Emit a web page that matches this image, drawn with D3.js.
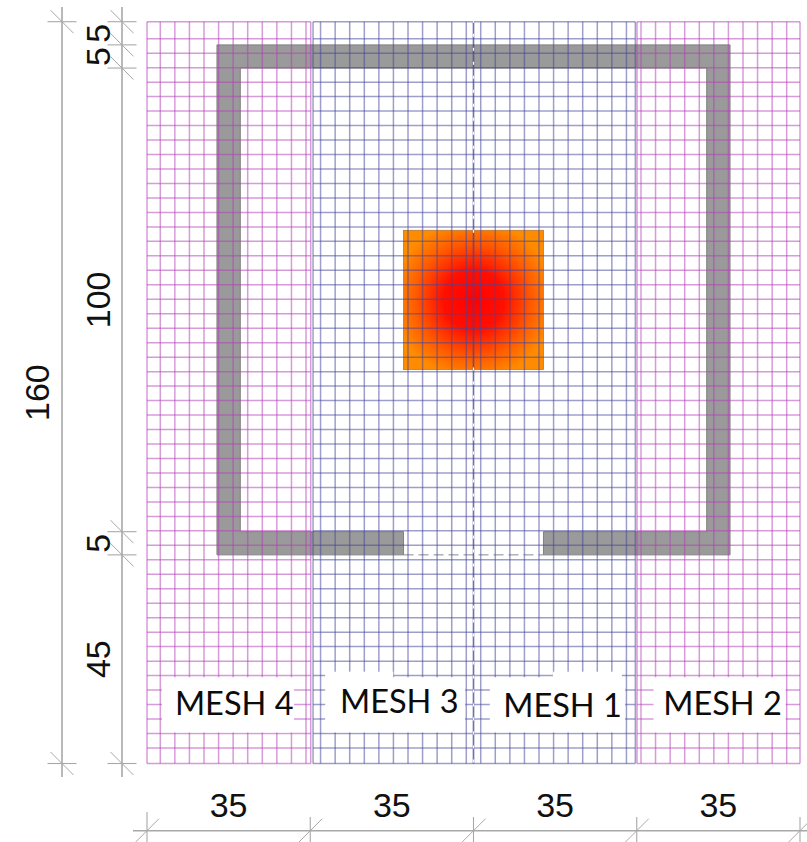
<!DOCTYPE html>
<html><head><meta charset="utf-8">
<script src="https://cdn.jsdelivr.net/npm/d3@7"></script>
<style>html,body{margin:0;padding:0;background:#fff}svg{display:block}</style>
</head><body><svg id="c" width="807" height="842"></svg>
<script>
// Plan extents, in centimetres
const planWidths = [35, 35, 35, 35];
const planHeights = [5, 5, 100, 5, 45];
const planTotalHeight = [160];
const heightLabels = ["5", "5", "100", "5", "45"];
const widthLabels = ["35", "35", "35", "35"];
const totalLabel = ["160"];
const yBreaks = [0, 5, 10, 110, 115, 160];
const xBreaks = [0, 35, 70, 105, 140];

// Grid line stations
const gridXLeftOuter = [0, 2.85, 5.97, 9.10, 12.22, 15.35, 18.47, 21.59, 24.72, 27.84, 30.97, 34.09, 35.1];
const gridXLeftInner = [35.6, 37.21, 40.34, 43.46, 46.59, 49.71, 52.83, 55.96, 59.08, 62.2, 65.33, 68.45, 70];
const gridXRightInner = [70, 71.55, 74.67, 77.8, 80.92, 84.04, 87.17, 90.29, 93.41, 96.54, 99.66, 102.79, 104.7];
const gridXRightOuter = [105.05, 105.91, 109.03, 112.16, 115.28, 118.41, 121.53, 124.65, 127.78, 130.9, 134.03, 137.15, 140];
const gridY = [0, 3.67, 6.79, 9.91, 13.04, 16.16, 19.28, 22.40, 25.52, 28.65, 31.77, 34.89, 38.01, 41.13, 44.26, 47.38, 50.50, 53.62, 56.74, 59.87, 62.99, 66.11, 69.23, 72.35, 75.48, 78.60, 81.72, 84.84, 87.96, 91.09, 94.21, 97.33, 100.45, 103.57, 106.70, 109.82, 112.94, 116.06, 119.18, 122.31, 125.43, 128.55, 131.67, 134.79, 137.92, 141.04, 144.16, 147.28, 150.40, 153.53, 156.65, 160];

// Walls
const wallXs = [15, 20, 55, 85, 120, 125];
const wallYs = [5, 10, 110, 115];
const fireX = [55, 85];
const fireY = [45, 75];

// Mesh labels
const meshNames = ["MESH 4", "MESH 3", "MESH 1", "MESH 2"];
const meshLabelX = [18.7, 54.1, 89.1, 123.4];
const meshLabelY = [149.6, 149.2, 150, 149.6];
const meshBoxX0 = [3.2, 38.2, 73.5, 108.6];
const meshBoxX1 = [31.5, 68.2, 102.5, 136.9];
const meshBoxY0 = [141.4, 141.4, 141.4, 141.4];
const meshBoxY1 = [153.3, 153.3, 153.3, 153.3];
const notchX0 = [38.2, 87];
const notchX1 = [52.8, 101.8];

const x = d3.scaleLinear().domain([0, 140]).range([147, 800]);
const y = d3.scaleLinear().domain([0, 160]).range([21.7, 763.5]);
const svg = d3.select("#c");
const PINK = "#b23fb8", BLUE = "#45459c", DIM = "#a8a8a8";

const defs = svg.append("defs");
const grad = defs.append("radialGradient").attr("id", "fire")
  .attr("gradientUnits", "userSpaceOnUse")
  .attr("cx", x(70)).attr("cy", y(60)).attr("r", 80);
[[0, "#ff0000"], [0.38, "#ff1000"], [0.72, "#ff5a00"], [1, "#ff8c00"]].forEach(s =>
  grad.append("stop").attr("offset", s[0]).attr("stop-color", s[1]));

// Walls
const [a, b, c, d, e, f] = wallXs;
const [p, q, r, s] = wallYs;
const wallPath = d3.path();
wallPath.moveTo(x(c), y(s));
wallPath.lineTo(x(a), y(s)); wallPath.lineTo(x(a), y(p)); wallPath.lineTo(x(f), y(p));
wallPath.lineTo(x(f), y(s)); wallPath.lineTo(x(d), y(s)); wallPath.lineTo(x(d), y(r));
wallPath.lineTo(x(e), y(r)); wallPath.lineTo(x(e), y(q)); wallPath.lineTo(x(b), y(q));
wallPath.lineTo(x(b), y(r)); wallPath.lineTo(x(c), y(r)); wallPath.closePath();
svg.append("path").attr("d", wallPath.toString()).attr("fill", "#9a9a9a").attr("stroke", "#808080").attr("stroke-width", 1);

// Door threshold
svg.append("line").attr("x1", x(c)).attr("x2", x(d)).attr("y1", y(s)).attr("y2", y(s))
  .attr("stroke", "#8a8a8a").attr("stroke-width", 1).attr("stroke-dasharray", "10 5");

// Fire
svg.append("rect").attr("x", x(fireX[0])).attr("y", y(fireY[0]))
  .attr("width", x(fireX[1]) - x(fireX[0])).attr("height", y(fireY[1]) - y(fireY[0]))
  .attr("fill", "url(#fire)").attr("stroke", "#b9772f").attr("stroke-width", 0.8);

// Mesh grids
function mesh(xs, color, op) {
  const g = svg.append("g").attr("stroke", color).attr("stroke-width", 1.5).attr("stroke-opacity", op);
  g.selectAll("line.v").data(xs).join("line").attr("class", "v")
    .attr("x1", d => x(d)).attr("x2", d => x(d)).attr("y1", y(0)).attr("y2", y(160));
  g.selectAll("line.h").data(gridY).join("line").attr("class", "h")
    .attr("x1", x(xs[0])).attr("x2", x(xs[xs.length - 1])).attr("y1", d => y(d)).attr("y2", d => y(d));
}
mesh(gridXLeftInner, BLUE, 0.52);
mesh(gridXRightInner, BLUE, 0.52);
mesh(gridXLeftOuter, PINK, 0.52);
mesh(gridXRightOuter, PINK, 0.52);

// Centre line, broken across the fire
[[0, fireY[0]], [fireY[1], 160]].forEach(seg => {
  svg.append("line").attr("x1", x(70)).attr("x2", x(70)).attr("y1", y(seg[0]) - 2).attr("y2", y(seg[1]) + 3)
    .attr("stroke", "#ffffff").attr("stroke-width", 1.2).attr("stroke-dasharray", "3 11");
});

// Label backgrounds
svg.append("g").attr("fill", "#fff").selectAll("rect").data(meshNames).join("rect")
  .attr("x", (d, i) => x(meshBoxX0[i])).attr("width", (d, i) => x(meshBoxX1[i]) - x(meshBoxX0[i]))
  .attr("y", (d, i) => y(meshBoxY0[i])).attr("height", (d, i) => y(meshBoxY1[i]) - y(meshBoxY0[i]));
svg.append("g").attr("fill", "#fff").selectAll("rect").data(notchX0).join("rect")
  .attr("x", d => x(d)).attr("width", (d, i) => x(notchX1[i]) - x(d))
  .attr("y", y(140.2)).attr("height", y(141.6) - y(140.2));

svg.append("g").selectAll("text").data(meshNames).join("text")
  .attr("x", (d, i) => x(meshLabelX[i])).attr("y", (d, i) => y(meshLabelY[i]))
  .attr("text-anchor", "middle").attr("font-family", "Lato, sans-serif").attr("font-size", 32.5)
  .attr("fill", "#0c0c0c").text(d => d);

// Dimension lines
const dim = svg.append("g").attr("stroke", DIM).attr("fill", "none");
const COL1 = 62, COL2 = 122, ROW = 830.7, LINE_TOP = 7, LINE_BOTTOM = 777;
[COL1, COL2].forEach(cx => dim.append("line").attr("x1", cx).attr("x2", cx).attr("y1", LINE_TOP).attr("y2", LINE_BOTTOM).attr("stroke-width", 1.6));
function vTick(cx, cy) {
  dim.append("line").attr("x1", cx - 14.5).attr("x2", cx + 14.5).attr("y1", cy).attr("y2", cy).attr("stroke-width", 1.1);
  dim.append("line").attr("x1", cx - 11.5).attr("x2", cx + 11.5).attr("y1", cy - 11.5).attr("y2", cy + 11.5).attr("stroke-width", 1);
}
[0, 160].forEach(v => vTick(COL1, y(v)));
yBreaks.forEach(v => vTick(COL2, y(v)));

dim.append("line").attr("x1", x(0) - 14).attr("x2", 807).attr("y1", ROW).attr("y2", ROW).attr("stroke-width", 1.4);
xBreaks.forEach((v, i) => {
  dim.append("line").attr("x1", x(v)).attr("x2", x(v)).attr("y1", i === 0 ? 812 : 817).attr("y2", 842).attr("stroke-width", 1.1);
  dim.append("line").attr("x1", x(v) - 12).attr("x2", x(v) + 12).attr("y1", ROW + 12).attr("y2", ROW - 12).attr("stroke-width", 1);
});

// Dimension texts
const dimFont = { family: "'Liberation Sans', Arial, sans-serif", size: 34, color: "#111" };
function vText(t, cy, bx) {
  svg.append("text").attr("transform", `translate(${bx},${cy}) rotate(-90)`).attr("text-anchor", "middle")
    .attr("font-family", dimFont.family).attr("font-size", dimFont.size).attr("fill", dimFont.color).text(t);
}
heightLabels.forEach((t, i) => vText(t, y((yBreaks[i] + yBreaks[i + 1]) / 2), 109.5));
vText(totalLabel[0], y(planTotalHeight[0] / 2), 49);
widthLabels.forEach((t, i) => svg.append("text").attr("x", x((xBreaks[i] + xBreaks[i + 1]) / 2)).attr("y", 817)
  .attr("text-anchor", "middle").attr("font-family", dimFont.family).attr("font-size", dimFont.size).attr("fill", dimFont.color).text(t));
</script></body></html>
